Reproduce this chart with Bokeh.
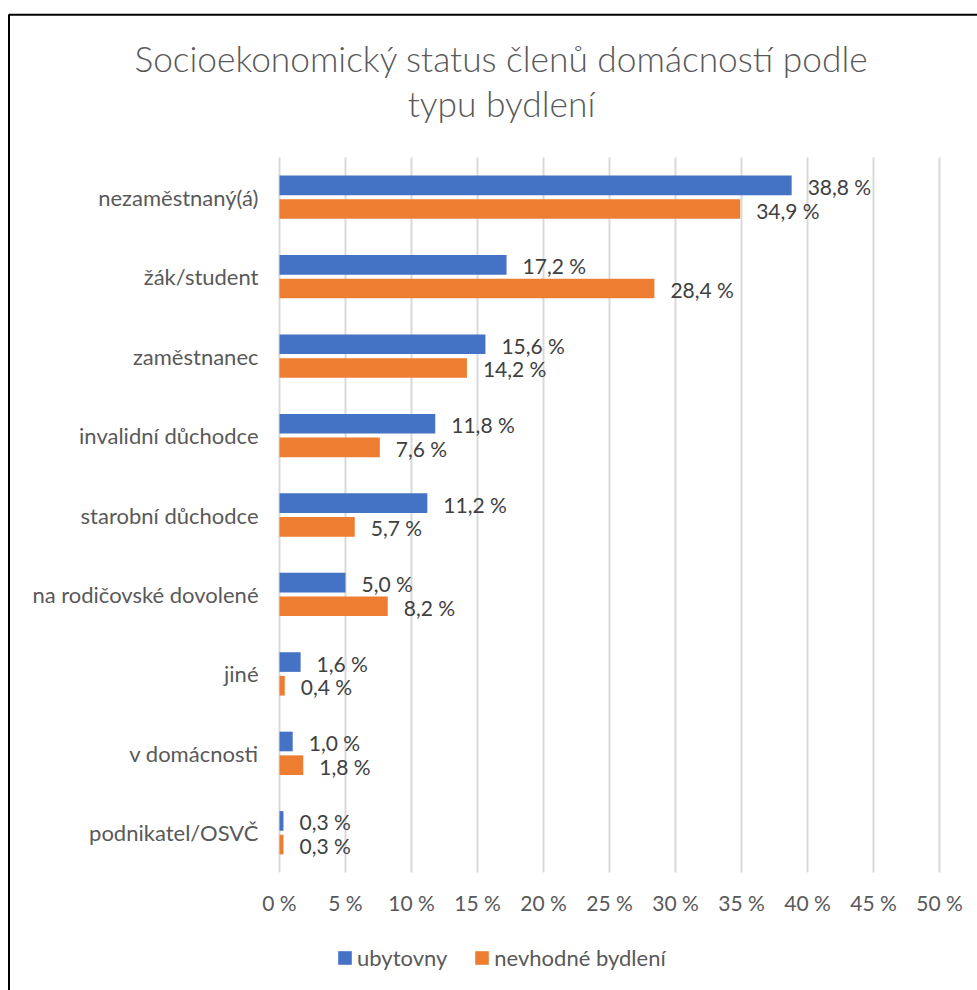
from bokeh.plotting import figure
from bokeh.models import (Range1d, FixedTicker, Label, BoxAnnotation, ColumnDataSource)
from bokeh.core.properties import value
from bokeh.embed import file_html
from bokeh.resources import INLINE

# ---- data ----
categories = ["nezaměstnaný(á)", "žák/student", "zaměstnanec", "invalidní důchodce",
              "starobní důchodce", "na rodičovské dovolené", "jiné", "v domácnosti",
              "podnikatel/OSVČ"]
ubytovny = [38.8, 17.2, 15.6, 11.8, 11.2, 5.0, 1.6, 1.0, 0.3]
nevhodne = [34.9, 28.4, 14.2, 7.6, 5.7, 8.2, 0.4, 1.8, 0.3]
series_names = ["ubytovny", "nevhodné bydlení"]
x_ticks = [0, 5, 10, 15, 20, 25, 30, 35, 40, 45, 50]
x_tick_labels = ["0 %", "5 %", "10 %", "15 %", "20 %", "25 %", "30 %", "35 %",
                 "40 %", "45 %", "50 %"]
title_lines = ["Socioekonomický status členů domácností podle", "typu bydlení"]

FONT = "Lato"
TITLE_FONT = "Lato Light, Lato"
BLUE = "#4472C4"
ORANGE = "#ED7D31"
GREY_TXT = "#595959"
LBL_TXT = "#404040"
GRID = "#D9D9D9"


def fmt(v):
    return f"{v:.1f} %".replace(".", ",")


n_cat = len(categories)
pos = [n_cat - 1 - i for i in range(n_cat)]          # top category drawn highest
OFF, BH = 0.149, 0.247

src = ColumnDataSource(dict(
    cat=categories, pos=pos,
    yu=[v + OFF for v in pos], yn=[v - OFF for v in pos],
    u=ubytovny, n=nevhodne,
    ul=[fmt(v) for v in ubytovny], nl=[fmt(v) for v in nevhodne],
))

# page geometry (pixels) -> data ranges, the plot frame fills the whole canvas
W, H = 977, 990
PX_LEFT, PX_RIGHT = 279, 939          # 0 % and 50 % grid lines
PY_TOP, PY_BOT = 157, 872             # top / bottom of the category area
xs = (PX_RIGHT - PX_LEFT) / (x_ticks[-1] - x_ticks[0])
ys = (PY_BOT - PY_TOP) / n_cat
x_range = Range1d(x_ticks[0] - PX_LEFT / xs, x_ticks[-1] + (W - PX_RIGHT) / xs)
cat_lo, cat_hi = -0.5, n_cat - 0.5
y_range = Range1d(cat_lo - (H - PY_BOT) / ys, cat_hi + PY_TOP / ys)

p = figure(width=W, height=H, output_backend="svg", toolbar_location=None,
           x_range=x_range, y_range=y_range, title=None,
           min_border_left=0, min_border_right=0, min_border_top=0,
           min_border_bottom=0)
p.outline_line_color = None
p.background_fill_color = "white"
p.border_fill_color = "white"
p.xgrid.grid_line_color = None
p.ygrid.grid_line_color = None

# vertical grid lines limited to the category area
p.segment(x0=x_ticks, x1=x_ticks, y0=[cat_lo] * len(x_ticks), y1=[cat_hi] * len(x_ticks),
          line_color=GRID, line_width=2)

p.hbar(y="yu", left=0, right="u", height=BH, fill_color=BLUE, line_color=None,
       source=src, legend_label=series_names[0])
p.hbar(y="yn", left=0, right="n", height=BH, fill_color=ORANGE, line_color=None,
       source=src, legend_label=series_names[1])

for col, lab, ycol in (("u", "ul", "yu"), ("n", "nl", "yn")):
    p.text(x=col, y=ycol, text=lab, source=src,
           x_offset=16, y_offset=1, text_baseline="middle", text_align="left",
           text_font=value(FONT), text_font_size="21px", text_color=LBL_TXT)

# axes drawn at fixed data locations (they take no panel space)
xa, ya = p.xaxis[0], p.yaxis[0]
xa.fixed_location = cat_lo
ya.fixed_location = x_ticks[0]
xa.ticker = FixedTicker(ticks=x_ticks)
xa.major_label_overrides = {t: l for t, l in zip(x_ticks, x_tick_labels)}
ya.ticker = FixedTicker(ticks=pos)
ya.major_label_overrides = {pp: c for pp, c in zip(pos, categories)}
for ax in (xa, ya):
    ax.axis_line_color = None
    ax.major_tick_line_color = None
    ax.minor_tick_line_color = None
    ax.major_tick_out = 0
    ax.major_tick_in = 0
    ax.major_label_text_font = FONT
    ax.major_label_text_color = GREY_TXT
xa.major_label_text_font_size = "21px"
ya.major_label_text_font_size = "22px"
xa.major_label_standoff = 17
ya.major_label_standoff = 21

# legend
lg = p.legend[0]
lg.orientation = "horizontal"
lg.location = (336, 19)
lg.glyph_width = 17
lg.glyph_height = 17
lg.label_standoff = 4
lg.spacing = 26
lg.padding = 0
lg.margin = 0
lg.border_line_color = None
lg.background_fill_alpha = 0
lg.label_text_font = FONT
lg.label_text_font_size = "22px"
lg.label_text_color = GREY_TXT

# title, two centred lines
for txt, ypage in zip(title_lines, (58, 103)):
    p.add_layout(Label(x=501, y=H - ypage, x_units="screen", y_units="screen",
                       text=txt, text_align="center", text_baseline="middle",
                       text_font=TITLE_FONT, text_font_size="35.3px",
                       text_color=GREY_TXT))

# thin black chart border (left and top visible in the crop)
p.add_layout(BoxAnnotation(left=8.5, right=W + 20, top=H - 14.3, bottom=-20,
                           left_units="screen", right_units="screen",
                           top_units="screen", bottom_units="screen",
                           fill_alpha=0, line_color="black", line_alpha=1,
                           line_width=2))

open("out.html", "w").write(file_html(p, INLINE))
